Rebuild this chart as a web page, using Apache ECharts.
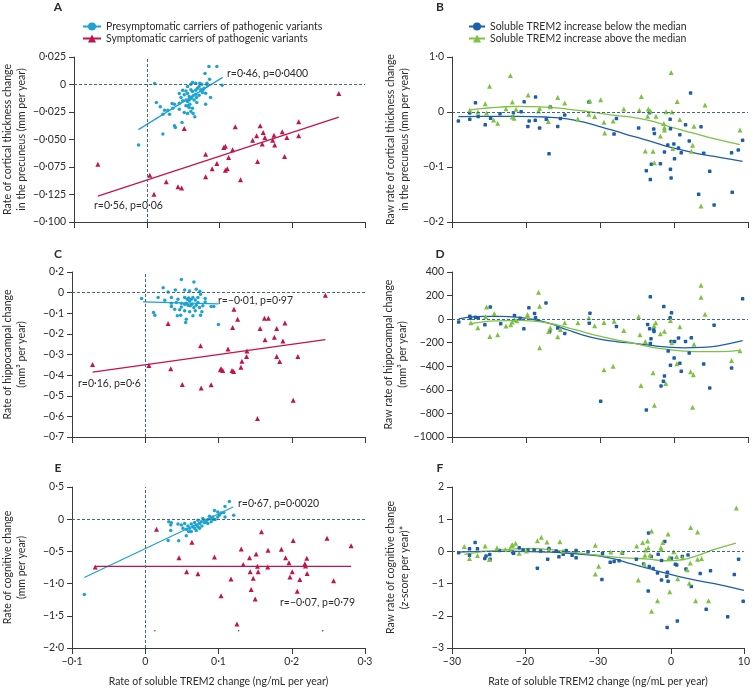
<!DOCTYPE html>
<html><head><meta charset="utf-8">
<script src="https://cdn.jsdelivr.net/npm/echarts@6/dist/echarts.min.js"></script>
<style>html,body{margin:0;padding:0;background:#fff}#c{width:753px;height:688px}</style>
</head><body><div id="c"></div>
<script>
// ---------- tick labels ----------
const xTicksLeft = ['−0·1','0','0·1','0·2','0·3'];
const xTicksRight = ['−30','−20','−30','0','10'];
const yTicksA = ['−0·100','−0·125','−0·075','−0·050','−0·025','0','0·025'];
const yTicksB = ['−0·2','−0·1','0','1·0'];
const yTicksC = ['−0·7','−0·6','−0·5','−0·4','−0·3','−0·2','−0·1','0','0·2'];
const yTicksD = ['−1000','−800','−600','−400','−200','0','200','400'];
const yTicksE = ['−2·0','−1·5','−1·0','−0·5','0','0·5'];
const yTicksF = ['−3','−2','−1','0','1','2'];

// ---------- series names ----------
const PRE = 'Presymptomatic carriers of pathogenic variants';
const SYM = 'Symptomatic carriers of pathogenic variants';
const BELOW = 'Soluble TREM2 increase below the median';
const ABOVE = 'Soluble TREM2 increase above the median';

// ---------- Panel A ----------
const aPre = [[0.0854,0.0164],[0.0963,0.0164],[0.0800,0.0100],[0.0108,0.0009],[0.0628,0.0018],[0.0673,0.0012],[0.0728,0.0012],[0.0827,0.0012],[0.0755,0.0003],[0.0606,0.0003],[0.0863,0.0048],[0.0560,-0.0018],[0.0719,-0.0018],[0.0786,-0.0033],[0.0832,-0.0009],[0.0493,-0.0052],[0.0538,-0.0058],[0.0606,-0.0048],[0.0628,-0.0064],[0.0673,-0.0052],[0.0696,-0.0033],[0.0741,-0.0048],[0.0764,-0.0073],[0.0447,-0.0082],[0.0515,-0.0094],[0.0560,-0.0082],[0.0583,-0.0109],[0.0637,-0.0103],[0.0673,-0.0088],[0.0719,-0.0097],[0.0877,-0.0118],[0.0131,-0.0164],[0.0185,-0.0203],[0.0348,-0.0173],[0.0380,-0.0179],[0.0447,-0.0170],[0.0493,-0.0148],[0.0538,-0.0142],[0.0560,-0.0155],[0.0583,-0.0142],[0.0615,-0.0124],[0.0651,-0.0142],[0.0683,-0.0118],[0.0809,-0.0179],[0.0538,-0.0194],[0.0583,-0.0209],[0.0628,-0.0215],[0.0244,-0.0233],[0.0289,-0.0233],[0.0312,-0.0270],[0.0221,-0.0270],[0.0357,-0.0215],[0.0447,-0.0224],[0.0515,-0.0255],[0.0560,-0.0264],[0.0606,-0.0245],[0.0637,-0.0264],[0.0660,-0.0294],[0.0484,-0.0345],[0.0393,-0.0391],[0.0221,-0.0451],[-0.0113,-0.0551],[0.0380,-0.0376],[0.0560,-0.0194],[0.0592,-0.0179],[0.0687,-0.0164],[0.0470,-0.0118],[0.0809,-0.0079],[0.0773,-0.0048],[0.1035,-0.0006]];
const aSym = [[0.2640,-0.0082],[-0.0673,-0.0724],[0.0041,-0.0824],[0.0099,-0.0997],[0.0267,-0.0885],[0.0429,-0.0930],[0.0479,-0.0942],[0.0515,-0.0400],[0.0809,-0.0633],[0.0809,-0.0839],[0.0899,-0.0767],[0.0963,-0.0718],[0.1058,-0.0573],[0.1080,-0.0561],[0.1125,-0.0664],[0.1080,-0.0779],[0.1107,-0.0767],[0.1180,-0.0594],[0.1216,-0.0385],[0.1288,-0.0867],[0.1455,-0.0506],[0.1510,-0.0467],[0.1523,-0.0700],[0.1559,-0.0376],[0.1600,-0.0436],[0.1623,-0.0482],[0.1587,-0.0542],[0.1731,-0.0506],[0.1749,-0.0461],[0.1758,-0.0551],[0.1862,-0.0430],[0.1894,-0.0654],[0.1926,-0.0482],[0.2088,-0.0339],[0.2088,-0.0467]];
const aPreFit = [[-0.0115,-0.0410],[0.1043,0.0065]];
const aSymFit = [[-0.0673,-0.1015],[0.2640,-0.0297]];

// ---------- Panel B ----------
const bBelow = [[-29.14,-0.0162],[-27.60,-0.0132],[-27.60,-0.0018],[-26.83,0.0168],[-26.46,-0.0084],[-25.51,-0.0234],[-24.78,-0.0114],[-23.51,-0.0030],[-21.70,-0.0012],[-21.79,-0.0090],[-20.66,0.0006],[-20.25,0.0186],[-19.75,-0.0263],[-19.57,-0.0162],[-18.75,-0.0150],[-18.71,0.0275],[-18.16,-0.0293],[-17.26,-0.0132],[-16.89,-0.0760],[-16.71,0.0090],[-15.71,-0.0263],[-15.35,-0.0120],[-14.76,-0.0054],[-11.50,0.0180],[-8.10,-0.0401],[-7.78,-0.0120],[-4.78,-0.0293],[-3.74,-0.1066],[-3.20,-0.1228],[-3.06,-0.0952],[-2.74,-0.0311],[-2.65,-0.0389],[-1.84,-0.0940],[-1.29,-0.0725],[-0.84,-0.0599],[-0.52,-0.0132],[-0.48,-0.0305],[-0.48,-0.1042],[-0.39,-0.1198],[-0.02,-0.0581],[0.07,-0.0850],[0.61,-0.0653],[0.79,-0.0413],[0.98,-0.0743],[1.56,-0.0234],[2.06,-0.0527],[2.24,0.0347],[3.65,-0.0269],[3.33,-0.1497],[4.01,-0.0749],[4.83,-0.1078],[5.42,-0.1689],[7.87,-0.1461],[7.78,-0.0743],[8.68,-0.0689],[9.27,-0.0515],[-3.29,-0.0012]];
const bAbove = [[-27.60,0.0030],[-26.51,0.0],[-25.51,0.0150],[-25.33,-0.0018],[-24.92,0.0467],[-24.38,-0.0144],[-23.83,-0.0204],[-22.70,0.0060],[-22.11,0.0665],[-21.84,0.0180],[-21.84,-0.0090],[-21.61,-0.0114],[-21.34,0.0048],[-19.71,0.0311],[-18.30,0.0018],[-18.16,0.0066],[-16.98,-0.0174],[-16.71,0.0096],[-15.71,0.0263],[-14.76,0.0162],[-12.99,-0.0126],[-11.50,-0.0042],[-11.36,0.0198],[-10.73,-0.0084],[-9.91,0.0222],[-9.46,-0.0186],[-9.37,-0.0383],[-8.23,-0.0162],[-6.78,0.0054],[-4.69,0.0030],[-4.42,0.0281],[-3.88,-0.0707],[-3.56,-0.0078],[-3.47,0.0054],[-3.20,0.0018],[-2.83,-0.0713],[-2.65,-0.0922],[-2.43,-0.0078],[-1.84,-0.0437],[-1.38,-0.0210],[-1.29,-0.0281],[-1.29,-0.0329],[-1.07,0.0006],[-0.39,0.0719],[-0.29,0.0],[-0.16,-0.0665],[0.43,0.0192],[0.79,-0.0138],[2.34,-0.0713],[2.52,-0.0605],[2.70,-0.0257],[3.65,-0.1707],[4.20,0.0126],[8.91,-0.0329]];
const bBelowFit = [[-29.14,-0.0084],[-25.78,-0.0078],[-21.25,-0.0078],[-16.71,-0.0096],[-14.44,-0.0126],[-12.18,-0.0186],[-9.91,-0.0269],[-7.64,-0.0359],[-5.37,-0.0449],[-3.11,-0.0533],[-0.84,-0.0629],[1.43,-0.0701],[3.70,-0.0772],[5.96,-0.0820],[9.27,-0.0898]];
const bAboveFit = [[-27.69,0.0036],[-25.78,0.0066],[-23.51,0.0090],[-21.25,0.0102],[-18.98,0.0096],[-16.71,0.0084],[-14.44,0.0054],[-12.18,0.0018],[-9.91,-0.0024],[-7.64,-0.0066],[-5.37,-0.0102],[-3.11,-0.0162],[-0.84,-0.0257],[1.43,-0.0341],[3.70,-0.0425],[5.96,-0.0503],[8.91,-0.0593]];

// ---------- Panel C ----------
const cPre = [[0.0493,0.0642],[0.0664,0.0514],[0.0244,0.0241],[0.0411,0.0128],[0.0312,0.0032],[0.0538,0.0128],[0.0606,0.0080],[0.0696,0.0161],[0.0746,0.0064],[0.0755,-0.0080],[-0.0050,-0.0289],[0.0176,-0.0241],[0.0267,-0.0369],[0.0357,-0.0241],[0.0447,-0.0321],[0.0538,-0.0241],[0.0574,-0.0321],[0.0592,-0.0257],[0.0606,-0.0401],[0.0628,-0.0321],[0.0651,-0.0241],[0.0683,-0.0353],[0.0719,-0.0241],[0.0719,-0.0482],[0.0818,-0.0289],[0.0818,-0.0450],[0.0899,-0.0675],[0.0936,-0.0675],[0.0357,-0.0514],[0.0425,-0.0482],[0.0493,-0.0514],[0.0538,-0.0562],[0.0560,-0.0514],[0.0583,-0.0610],[0.0615,-0.0642],[0.0637,-0.0562],[0.0664,-0.0723],[0.0696,-0.0610],[0.0741,-0.0723],[0.0786,-0.0642],[0.0402,-0.0803],[0.0470,-0.0835],[0.0538,-0.0883],[0.0606,-0.0931],[0.0651,-0.1124],[0.0755,-0.1092],[0.0484,-0.1092],[0.0438,-0.1124],[0.0560,-0.1285],[0.0551,-0.1445],[0.0113,-0.0964],[0.0131,-0.1092],[0.0999,-0.1542],[0.0493,-0.0691],[0.0683,-0.0883],[0.0773,-0.0931],[0.0357,-0.0675]];
const cSym = [[0.2459,-0.0128],[-0.0719,-0.3485],[0.0050,-0.3533],[0.0312,-0.1494],[0.0348,-0.3694],[0.0506,-0.4449],[0.0755,-0.2570],[0.0764,-0.4625],[0.0899,-0.4465],[0.1026,-0.3742],[0.1058,-0.3774],[0.1035,-0.3694],[0.1130,-0.2730],[0.1193,-0.1686],[0.1211,-0.0803],[0.1184,-0.3774],[0.1207,-0.3822],[0.1261,-0.1285],[0.1306,-0.3614],[0.1320,-0.3324],[0.1383,-0.3100],[0.1388,-0.2827],[0.1532,-0.6103],[0.1568,-0.1734],[0.1627,-0.1237],[0.1681,-0.1237],[0.1636,-0.2281],[0.1763,-0.2168],[0.1794,-0.1734],[0.1794,-0.3100],[0.1835,-0.3340],[0.1880,-0.2345],[0.1907,-0.1478],[0.2020,-0.5220],[0.2084,-0.3100]];
const cPreFit = [[-0.0030,-0.0450],[0.1000,-0.0546]];
const cSymFit = [[-0.0719,-0.3854],[0.2459,-0.2281]];

// ---------- Panel D ----------
const dBelow = [[-29.09,-25],[-27.60,25],[-27.51,8],[-26.83,17],[-26.46,8],[-25.56,-48],[-24.83,102],[-23.42,-39],[-21.56,31],[-20.79,8],[-20.29,-82],[-19.61,96],[-18.84,48],[-18.71,11],[-17.30,138],[-16.80,-104],[-15.71,-76],[-14.76,-121],[-11.36,51],[-11.45,-34],[-7.78,-62],[-9.91,-697],[-3.74,-770],[-3.20,189],[-3.56,-45],[-3.29,-82],[-2.74,-90],[-2.70,-104],[-3.11,-166],[-3.20,-206],[-1.38,107],[-1.29,-482],[-1.43,-527],[-0.79,-271],[-0.52,11],[-0.34,54],[-0.39,-189],[0.07,-189],[0.02,-330],[-0.48,-392],[0.61,-161],[0.79,-375],[0.98,-443],[1.56,-189],[2.06,-288],[2.34,-158],[4.01,-381],[4.83,-584],[5.42,-51],[7.78,-415],[9.27,172],[-1.75,-567]];
const dAbove = [[-27.46,-31],[-26.51,-73],[-25.46,23],[-25.33,102],[-24.88,-147],[-24.29,48],[-23.83,-133],[-22.70,-59],[-22.06,-48],[-21.88,-25],[-21.56,-3],[-21.25,-14],[-19.80,39],[-19.75,23],[-18.30,228],[-18.16,110],[-18.16,-243],[-16.94,-104],[-16.71,-73],[-15.71,-149],[-15.35,-87],[-14.76,-31],[-12.99,-31],[-11.50,11],[-10.73,-56],[-9.46,-28],[-9.46,-429],[-8.23,-400],[-8.10,-17],[-6.78,-96],[-4.78,23],[-4.60,-133],[-4.47,-564],[-3.88,-189],[-2.83,-454],[-2.65,-730],[-2.47,-31],[-2.70,-56],[-1.84,-124],[-1.29,-102],[-1.11,-547],[-0.48,-11],[-0.29,-200],[0.39,-378],[0.79,-65],[2.24,-446],[2.52,-747],[2.61,-471],[2.70,-214],[3.65,288],[3.65,186],[4.20,42],[7.78,-350],[8.91,-268],[3.33,-1001]];
const dBelowFit = [[-29.09,3],[-27.60,17],[-25.78,23],[-23.51,23],[-21.25,17],[-18.98,-3],[-16.71,-39],[-14.44,-90],[-12.18,-138],[-9.91,-172],[-7.64,-192],[-5.37,-206],[-3.11,-223],[-0.84,-237],[1.43,-243],[3.70,-240],[5.96,-226],[9.27,-183]];
const dAboveFit = [[-27.46,-39],[-25.78,-23],[-23.51,-14],[-21.25,-11],[-18.98,-17],[-16.71,-37],[-14.44,-71],[-12.18,-110],[-9.91,-147],[-7.64,-178],[-5.37,-206],[-3.11,-237],[-0.84,-257],[1.43,-271],[3.70,-276],[5.96,-276],[8.91,-265]];

// ---------- Panel E ----------
const ePre = [[-0.0832,-1.168],[0.1148,0.2757],[0.1089,0.1955],[0.1207,0.0602],[0.0990,0.1103],[0.1035,0.0952],[0.1071,0.1053],[0.1013,0.0652],[0.0945,0.1354],[0.0922,0.0351],[0.0899,0.0100],[0.0854,-0.0050],[0.0877,0.0451],[0.0809,-0.0150],[0.0832,-0.0401],[0.0786,0.0100],[0.0764,-0.0401],[0.0741,-0.0652],[0.0719,-0.0150],[0.0696,-0.0902],[0.0673,-0.0501],[0.0651,-0.1153],[0.0628,-0.0752],[0.0606,-0.1404],[0.0583,-0.1053],[0.0560,-0.1554],[0.0538,-0.0652],[0.0515,-0.1404],[0.0493,-0.0902],[0.0447,-0.0752],[0.0357,-0.0551],[0.0321,-0.0401],[0.0348,-0.0902],[0.0348,-0.1755],[0.0312,-0.3309],[0.0457,-0.3359],[0.0560,-0.2557],[0.0628,-0.1905],[0.0696,-0.1755],[0.0719,-0.1153],[0.0773,-0.1053],[0.0854,-0.0652],[0.0899,-0.0401],[0.0954,-0.0050],[0.0990,0.0351],[0.1089,0.0351],[0.0673,-0.1404],[0.0741,-0.1404],[0.0592,-0.1905],[0.0809,-0.0551],[0.0931,-0.0050]];
const eSym = [[-0.0683,-0.742],[0.0154,-0.155],[0.0461,-0.597],[0.0565,-0.817],[0.0637,-0.356],[0.0719,-0.847],[0.0945,-0.587],[0.1035,-1.188],[0.1171,-0.927],[0.1252,-1.629],[0.1311,-0.461],[0.1338,-0.702],[0.1424,-0.597],[0.1433,-0.817],[0.1446,-1.093],[0.1474,-0.917],[0.1501,-1.238],[0.1514,-0.541],[0.1532,-0.732],[0.1541,-0.817],[0.1587,-0.196],[0.1672,-0.742],[0.1677,-0.481],[0.1858,-0.466],[0.1916,-0.597],[0.1962,-0.677],[0.1975,-0.897],[0.2007,-0.817],[0.2020,-0.331],[0.2075,-1.118],[0.2111,-0.937],[0.2179,-0.692],[0.2188,-0.727],[0.2206,-0.607],[0.2210,-0.842],[0.2481,-0.296],[0.2572,-0.957],[0.2811,-0.411]];
const eStray = [[0.0131,-1.734],[0.1275,-1.734],[0.2423,-1.734]];
const ePreFit = [[-0.0832,-0.905],[0.1200,0.190]];
const eSymFit = [[-0.0683,-0.732],[0.2811,-0.732]];

// ---------- Panel F ----------
const fBelow = [[-29.09,-0.04],[-27.60,0.08],[-27.60,-0.12],[-26.83,0.28],[-26.51,0.08],[-25.51,-0.22],[-25.33,-0.14],[-24.83,-0.10],[-24.78,-0.24],[-23.51,0.03],[-21.70,-0.02],[-21.56,-0.06],[-20.79,0.11],[-20.25,0.04],[-19.61,0.04],[-18.75,0.04],[-18.30,-0.52],[-17.85,0.01],[-16.89,-0.24],[-16.71,0.09],[-15.71,0.01],[-15.35,-0.17],[-14.76,-0.09],[-14.35,0.03],[-13.54,-0.12],[-12.99,0.03],[-12.99,-0.20],[-11.36,-0.01],[-9.37,-0.06],[-9.46,-0.87],[-8.32,-0.34],[-7.78,-0.31],[-7.10,-0.29],[-6.64,-0.06],[-4.74,-0.24],[-3.74,-0.39],[-3.11,-1.23],[-3.06,0.57],[-2.97,-0.47],[-2.70,-0.16],[-2.43,-0.53],[-1.84,-0.67],[-1.75,-0.09],[-1.29,-0.89],[-0.84,0.31],[-0.57,-0.77],[-0.48,-0.65],[-0.52,-2.36],[-0.39,-0.93],[0.07,-0.21],[0.61,-0.40],[0.79,-0.42],[0.88,-2.16],[1.56,-0.16],[2.06,-0.55],[2.34,-0.11],[2.79,-1.09],[4.01,-0.69],[4.83,-1.80],[5.42,-0.60],[7.78,-2.03],[8.68,-0.72],[9.27,-0.24],[9.90,-1.55],[-1.29,-0.28]];
const fAbove = [[-28.32,0.15],[-27.60,-0.22],[-26.51,-0.13],[-25.46,0.17],[-24.88,-0.25],[-23.83,0.11],[-22.70,0.06],[-22.06,0.06],[-21.84,0.18],[-21.70,0.21],[-21.29,0.25],[-20.79,-0.06],[-19.80,0.01],[-18.30,0.33],[-17.76,0.44],[-16.98,0.29],[-16.71,0.04],[-15.22,0.30],[-14.81,0.01],[-10.36,0.19],[-10.36,-0.70],[-9.91,-0.46],[-8.23,-0.02],[-6.73,-0.02],[-4.69,0.17],[-4.47,-0.89],[-3.88,0.28],[-3.65,-0.40],[-3.47,0.04],[-3.20,0.32],[-2.88,-0.11],[-2.65,0.63],[-2.65,-1.86],[-1.84,-1.53],[-1.38,0.11],[-1.29,0.06],[-1.11,0.28],[-0.39,0.54],[-0.25,-0.19],[-0.16,-1.25],[0.39,-0.01],[0.79,-0.16],[0.93,-0.85],[1.61,-0.20],[2.24,-0.57],[2.52,-0.99],[2.65,-0.36],[2.70,0.74],[3.38,-1.53],[3.65,0.60],[3.65,-0.24],[4.20,-0.22],[5.15,-1.53],[8.96,1.35],[-3.56,-0.12],[-3.11,0.11]];
const fBelowFit = [[-29.09,-0.02],[-25.78,0.0],[-21.25,0.0],[-16.71,-0.02],[-14.44,-0.05],[-12.18,-0.09],[-9.91,-0.14],[-7.64,-0.24],[-5.37,-0.39],[-3.11,-0.53],[-0.84,-0.67],[1.43,-0.80],[3.70,-0.91],[5.96,-1.00],[10.0,-1.21]];
const fAboveFit = [[-28.32,-0.09],[-25.78,-0.01],[-23.51,0.04],[-21.25,0.08],[-18.98,0.09],[-16.71,0.06],[-14.44,0.0],[-12.18,-0.06],[-9.91,-0.12],[-7.64,-0.18],[-5.37,-0.21],[-3.11,-0.24],[-0.84,-0.29],[1.43,-0.26],[3.70,-0.12],[5.96,0.06],[8.91,0.26]];

// ---------- styling ----------
const FONT = 'Lato';
const TXT = '#2b2b2b';
const AXC = '#3a3a3a';
const CYAN = '#1ea3d0', RED = '#c3134c', BLUE = '#1d5ea9', GREEN = '#7dc243', DASH = '#3d6a80';

const chart = echarts.init(document.getElementById('c'), null, {renderer: 'canvas'});

const LEFT = 70, LW = 295, RIGHT = 452, RW = 296, H = 165;
const TOPS = [57, 272, 487];
const grids = [];
for (let r = 0; r < 3; r++) {
  grids.push({left: LEFT, top: TOPS[r], width: LW, height: H});
  grids.push({left: RIGHT, top: TOPS[r], width: RW, height: H});
}

function fmt(labels, min, interval) {
  return v => labels[Math.round((v - min) / interval)] ?? '';
}
function xAxis(gi, left, showLabels) {
  const min = left ? -0.1 : -30, max = left ? 0.3 : 10, iv = left ? 0.1 : 10;
  const labels = left ? xTicksLeft : xTicksRight;
  return {
    type: 'value', gridIndex: gi, min, max, interval: iv,
    axisLine: {onZero: false, lineStyle: {color: AXC, width: 1}},
    axisTick: {show: true, inside: false, length: 6, lineStyle: {color: AXC}},
    axisLabel: {show: showLabels, formatter: fmt(labels, min, iv), color: TXT, fontFamily: FONT, fontSize: 10.5, margin: 8},
    splitLine: {show: false},
    name: showLabels ? 'Rate of soluble TREM2 change (ng/mL per year)' : '',
    nameLocation: 'middle', nameGap: 28,
    nameTextStyle: {color: TXT, fontFamily: FONT, fontSize: 10.5}
  };
}
function yAxis(gi, min, max, iv, labels, name, gap, rich) {
  const o = {
    type: 'value', gridIndex: gi, min, max, interval: iv,
    axisLine: {onZero: false, lineStyle: {color: AXC, width: 1}},
    axisTick: {show: true, inside: false, length: 5, lineStyle: {color: AXC}},
    axisLabel: {formatter: fmt(labels, min, iv), color: TXT, fontFamily: FONT, fontSize: 10.5, margin: 8},
    splitLine: {show: false},
    name, nameLocation: 'middle', nameGap: gap, nameRotate: 90,
    nameTextStyle: {color: TXT, fontFamily: FONT, fontSize: 10.5, lineHeight: 14}
  };
  if (rich) o.nameTextStyle.rich = rich;
  return o;
}

const xAxes = [
  xAxis(0, true, false), xAxis(1, false, false),
  xAxis(2, true, false), xAxis(3, false, false),
  xAxis(4, true, true), xAxis(5, false, true)
];
const richZ = {
  n: {color: TXT, fontFamily: FONT, fontSize: 10.5, lineHeight: 14},
  i: {color: TXT, fontFamily: FONT, fontSize: 10.5, fontStyle: 'italic', lineHeight: 14}
};
const yAxes = [
  yAxis(0, -0.125, 0.025, 0.025, yTicksA, 'Rate of cortical thickness change\nin the precuneus (mm per year)', 43),
  yAxis(1, -0.2, 0.1, 0.1, yTicksB, 'Raw rate of cortical thickness change\nin the precuneus (mm per year)', 40),
  yAxis(2, -0.7, 0.1, 0.1, yTicksC, 'Rate of hippocampal change\n(mm³ per year)', 43),
  yAxis(3, -1000, 400, 200, yTicksD, 'Raw rate of hippocampal change\n(mm³ per year)', 40),
  yAxis(4, -2.0, 0.5, 0.5, yTicksE, 'Rate of cognitive change\n(mm per year)', 43),
  yAxis(5, -3, 2, 1, yTicksF, '{n|Raw rate of cognitive change}\n{n|(}{i|z}{n|-score per year)*}', 40, richZ)
];

const dashLine = {type: [3, 2], color: DASH, width: 1};
function markLines(left) {
  const d = [{yAxis: 0}];
  if (left) d.push({xAxis: 0});
  return {silent: true, symbol: 'none', label: {show: false}, lineStyle: dashLine, data: d, animation: false};
}
function fit(name, gi, data, color, symbol, smooth) {
  return {
    type: 'line', name, xAxisIndex: gi, yAxisIndex: gi, data, smooth: !!smooth,
    showSymbol: false, symbol, lineStyle: {color, width: 1.3}, itemStyle: {color}, z: 3
  };
}
function pts(name, gi, data, color, symbol, size, ml) {
  const s = {
    type: 'scatter', name, xAxisIndex: gi, yAxisIndex: gi, data, symbol, symbolSize: size,
    itemStyle: {color, opacity: 1}, z: 4
  };
  if (ml !== undefined) s.markLine = markLines(ml);
  return s;
}

const series = [
  fit(PRE, 0, aPreFit, CYAN, 'circle'),
  fit(SYM, 0, aSymFit, RED, 'triangle'),
  fit(BELOW, 1, bBelowFit, BLUE, 'circle', 0.5),
  fit(ABOVE, 1, bAboveFit, GREEN, 'triangle', 0.5),
  fit(PRE, 2, cPreFit, CYAN, 'circle'),
  fit(SYM, 2, cSymFit, RED, 'triangle'),
  fit(BELOW, 3, dBelowFit, BLUE, 'circle', 0.5),
  fit(ABOVE, 3, dAboveFit, GREEN, 'triangle', 0.5),
  fit(PRE, 4, ePreFit, CYAN, 'circle'),
  fit(SYM, 4, eSymFit, RED, 'triangle'),
  fit(BELOW, 5, fBelowFit, BLUE, 'circle', 0.5),
  fit(ABOVE, 5, fAboveFit, GREEN, 'triangle', 0.5),

  pts(PRE, 0, aPre, CYAN, 'circle', 3.5, true),
  pts(SYM, 0, aSym, RED, 'triangle', 5),
  pts(BELOW, 1, bBelow, BLUE, 'roundRect', 3.5, false),
  pts(ABOVE, 1, bAbove, GREEN, 'triangle', 5),
  pts(PRE, 2, cPre, CYAN, 'circle', 3.5, true),
  pts(SYM, 2, cSym, RED, 'triangle', 5),
  pts(BELOW, 3, dBelow, BLUE, 'roundRect', 3.5, false),
  pts(ABOVE, 3, dAbove, GREEN, 'triangle', 5),
  pts(PRE, 4, ePre, CYAN, 'circle', 3.5, true),
  pts(SYM, 4, eSym, RED, 'triangle', 5),
  pts('stray', 4, eStray, '#444', 'circle', 1.5),
  pts(BELOW, 5, fBelow, BLUE, 'roundRect', 3.5, false),
  pts(ABOVE, 5, fAbove, GREEN, 'triangle', 5)
];

function txt(x, y, s, extra) {
  return {type: 'text', x, y, silent: true,
    style: Object.assign({text: s, fill: TXT, font: '10.5px ' + FONT, verticalAlign: 'middle'}, extra || {})};
}
const letterFont = 'bold 12px ' + FONT;
const graphics = [
  txt(58, 7, 'A', {font: letterFont, align: 'center'}),
  txt(440, 7, 'B', {font: letterFont, align: 'center'}),
  txt(58, 254, 'C', {font: letterFont, align: 'center'}),
  txt(440, 254, 'D', {font: letterFont, align: 'center'}),
  txt(58, 468, 'E', {font: letterFont, align: 'center'}),
  txt(440, 468, 'F', {font: letterFont, align: 'center'}),
  txt(227, 74, 'r=0·46, p=0·0400'),
  txt(94, 206, 'r=0·56, p=0·06'),
  txt(218, 301, 'r=−0·01, p=0·97'),
  txt(78, 384, 'r=0·16, p=0·6'),
  txt(238, 504, 'r=0·67, p=0·0020'),
  txt(280, 603, 'r=−0·07, p=0·79')
];

const legendText = {color: TXT, fontFamily: FONT, fontSize: 10.5};
chart.setOption({
  animation: false,
  backgroundColor: '#fff',
  grid: grids,
  xAxis: xAxes,
  yAxis: yAxes,
  legend: [
    {data: [PRE, SYM], orient: 'vertical', left: 77, top: 16, itemWidth: 18, itemHeight: 10, itemGap: 1, textStyle: legendText, selectedMode: false},
    {data: [BELOW, ABOVE], orient: 'vertical', left: 463, top: 16, itemWidth: 16, itemHeight: 10, itemGap: 1, textStyle: legendText, selectedMode: false}
  ],
  series,
  graphic: graphics
});
</script>
</body></html>
